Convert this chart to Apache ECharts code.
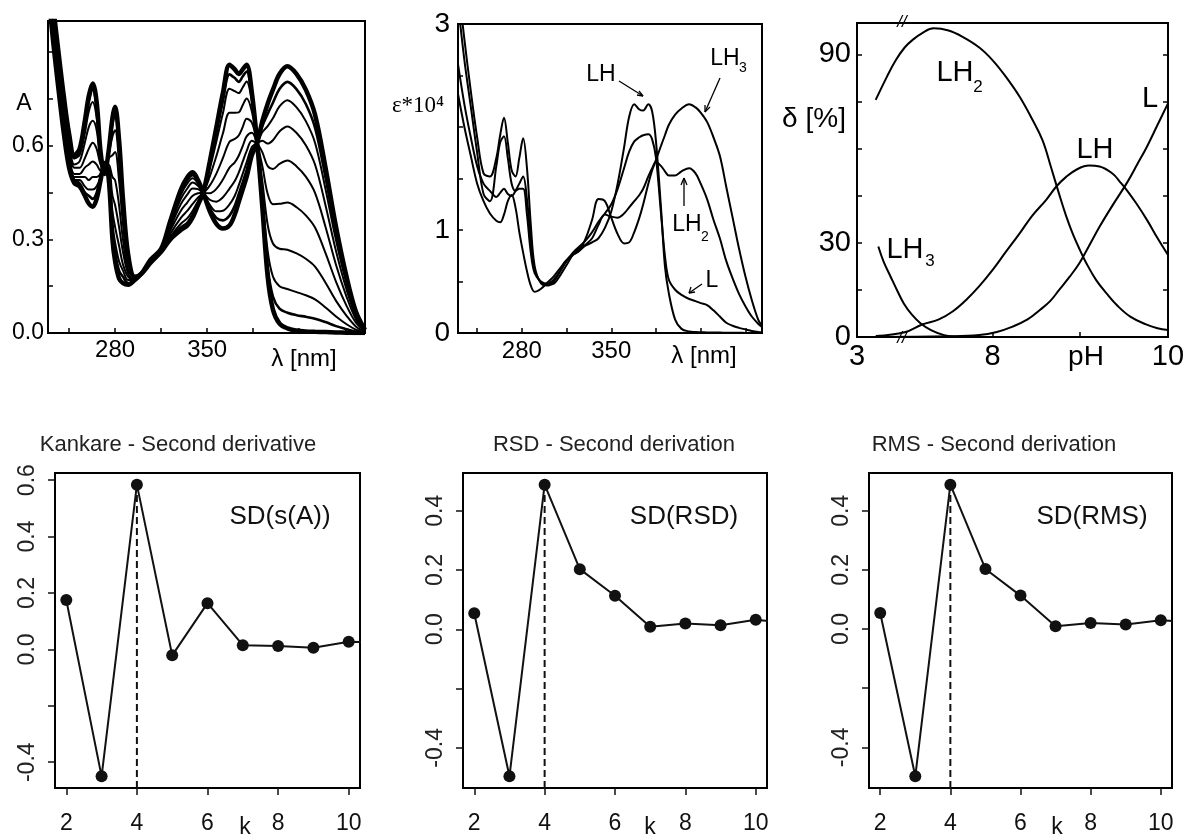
<!DOCTYPE html>
<html><head><meta charset="utf-8">
<script src="https://cdn.jsdelivr.net/npm/echarts@6/dist/echarts.min.js"></script>
<style>html,body{margin:0;padding:0;background:#fff}#c{width:1190px;height:838px}</style>
</head><body><div id="c"></div>
<script>
// ---------- Panel 1: titration spectra A vs wavelength ----------
const WL1 = [229,233,237,241,245,249,253,257,260,263,266,269,272,275,278,280,283,286,290,295,300,307,315,322,330,335,339,343,347,352,357,362,367,371,374,377,380,384,388,392,396,400,405,411,418,425,432,440,448,456,463,470];
const A_P = [1.25,1.05,0.90,0.76,0.64,0.57,0.59,0.68,0.76,0.80, 0.74,0.58,0.51,0.58,0.69,0.725,0.62,0.43,0.25,0.18, 0.19,0.225,0.26,0.30,0.33,0.345,0.37,0.41,0.45,0.55, 0.66,0.77,0.86,0.845,0.83,0.845,0.86,0.77,0.61,0.40, 0.18,0.075,0.03,0.015,0.008,0.005,0.004,0.003,0.002,0.001, 0,0];
const A_M1 = [1.24,1.04,0.89,0.75,0.63,0.56,0.58,0.67,0.74,0.78, 0.72,0.57,0.51,0.58,0.67,0.70,0.59,0.41,0.24,0.18, 0.19,0.225,0.261,0.304,0.338,0.354,0.379,0.415,0.45,0.54, 0.641,0.744,0.829,0.817,0.805,0.822,0.838,0.758,0.61,0.417, 0.213,0.117,0.078,0.065,0.057,0.052,0.046,0.035,0.022,0.012, 0.004,0.001];
const A_M2 = [1.23,1.03,0.88,0.74,0.62,0.56,0.57,0.64,0.71,0.74, 0.69,0.57,0.52,0.57,0.63,0.65,0.55,0.39,0.24,0.18, 0.19,0.227,0.262,0.309,0.350,0.368,0.392,0.422,0.45,0.526, 0.614,0.705,0.783,0.775,0.769,0.787,0.806,0.740,0.61,0.442, 0.263,0.181,0.150,0.141,0.131,0.121,0.108,0.082,0.053,0.028, 0.011,0.002];
const A_M3 = [1.21,1.01,0.86,0.72,0.61,0.54,0.55,0.61,0.66,0.68, 0.65,0.55,0.52,0.56,0.57,0.58,0.49,0.35,0.22,0.18, 0.19,0.228,0.263,0.318,0.369,0.392,0.414,0.434,0.45,0.502, 0.567,0.640,0.706,0.706,0.707,0.730,0.752,0.710,0.61,0.484, 0.347,0.287,0.270,0.267,0.255,0.238,0.213,0.161,0.103,0.055, 0.021,0.003];
const A_M4 = [1.18,0.99,0.84,0.70,0.59,0.53,0.53,0.56,0.59,0.61, 0.59,0.54,0.53,0.54,0.50,0.49,0.41,0.30,0.20,0.18, 0.19,0.23,0.265,0.329,0.392,0.419,0.440,0.448,0.45,0.473, 0.511,0.561,0.613,0.622,0.633,0.660,0.687,0.674,0.61,0.534, 0.446,0.413,0.414,0.418,0.403,0.377,0.338,0.256,0.164,0.087, 0.034,0.005];
const A_M5 = [1.15,0.97,0.82,0.68,0.57,0.51,0.51,0.53,0.54,0.55, 0.54,0.52,0.53,0.53,0.44,0.41,0.34,0.26,0.19,0.17, 0.19,0.231,0.266,0.338,0.413,0.444,0.463,0.461,0.45,0.448, 0.462,0.492,0.530,0.547,0.568,0.599,0.630,0.642,0.61,0.579, 0.535,0.526,0.542,0.553,0.534,0.501,0.449,0.340,0.218,0.116, 0.045,0.006];
const A_M6 = [1.13,0.96,0.81,0.67,0.56,0.50,0.50,0.50,0.49,0.50, 0.50,0.51,0.54,0.52,0.39,0.34,0.28,0.22,0.18,0.17, 0.19,0.233,0.268,0.346,0.430,0.464,0.482,0.472,0.45,0.427, 0.421,0.435,0.463,0.487,0.514,0.549,0.583,0.616,0.61,0.616, 0.607,0.618,0.646,0.662,0.641,0.602,0.540,0.409,0.262,0.139, 0.054,0.008];
const A_M7 = [1.12,0.95,0.80,0.66,0.54,0.49,0.49,0.47,0.46,0.46, 0.47,0.50,0.54,0.51,0.35,0.29,0.23,0.20,0.17,0.17, 0.19,0.234,0.269,0.352,0.443,0.480,0.496,0.480,0.45,0.411, 0.390,0.392,0.412,0.440,0.473,0.510,0.547,0.596,0.61,0.644, 0.663,0.688,0.726,0.746,0.723,0.679,0.610,0.461,0.296,0.157, 0.061,0.009];
const A_M8 = [1.11,0.94,0.79,0.65,0.54,0.49,0.48,0.45,0.44,0.43, 0.45,0.50,0.54,0.50,0.32,0.26,0.20,0.18,0.16,0.17, 0.19,0.234,0.269,0.356,0.452,0.491,0.506,0.485,0.45,0.400, 0.369,0.361,0.376,0.408,0.445,0.483,0.522,0.582,0.61,0.663, 0.702,0.738,0.782,0.805,0.781,0.734,0.658,0.498,0.320,0.169, 0.066,0.009];
const A_Q = [1.10,0.93,0.78,0.64,0.53,0.48,0.47,0.44,0.415,0.405, 0.43,0.49,0.545,0.50,0.30,0.23,0.175,0.16,0.155,0.17, 0.19,0.235,0.27,0.36,0.46,0.50,0.515,0.49,0.45,0.39, 0.35,0.335,0.345,0.38,0.42,0.46,0.50,0.57,0.61,0.68, 0.735,0.78,0.83,0.855,0.83,0.78,0.70,0.53,0.34,0.18, 0.07,0.01];
const WL_TICKS = [245,280,315,350,385,420,455];
const WL_LABELS = [280,350];
const A_TICKS = [0,0.15,0.3,0.45,0.6,0.75,0.9];
const A_LABELS = [0,0.3,0.6];

// ---------- Panel 2: species spectra eps*10^4 ----------
const WL2 = [230,235,240,245,250,255,260,263,266,269,272,275,278,281,284,287,290,295,300,305,310,315,320,325,330,335,340,345,350,355,360,364,368,372,375,379,382,385,389,392,395,400,405,411,416,420,425,430,435,440,445,450,455,460,465,468];
const E_LH = [3.40,2.85,2.35,1.90,1.55, 1.52,1.70,1.92,2.09,1.85, 1.58,1.52,1.70,1.89,1.60, 1.05,0.65,0.48,0.46,0.50, 0.60,0.70,0.76,0.80,0.85, 0.88,0.92,1.02,1.18,1.45, 1.80,2.10,2.22,2.17,2.16, 2.22,2.15,1.86,1.20,0.65, 0.39,0.13,0.04,0.015,0.01, 0.008,0.006,0.005,0.004,0.003, 0.002,0.002,0.001,0.001,0, 0];
const E_L = [3.20,2.65,2.20,1.75,1.35, 1.28,1.62,1.85,1.91,1.70, 1.45,1.38,1.40,1.40,1.15, 0.78,0.58,0.50,0.48,0.52, 0.60,0.70,0.78,0.84,0.90, 0.98,1.08,1.16,1.25,1.40, 1.60,1.76,1.86,1.90,1.92, 1.93,1.88,1.70,1.15,0.75, 0.52,0.42,0.37,0.33,0.31, 0.29,0.27,0.22,0.16,0.10, 0.07,0.05,0.035,0.02,0.01, 0.008];
const E_LH2 = [2.61,2.22,1.90,1.62,1.45, 1.38,1.32,1.36,1.40,1.35, 1.33,1.38,1.45,1.52,1.30, 0.90,0.62,0.49,0.47,0.48, 0.56,0.66,0.76,0.82,0.86, 0.92,1.05,1.15,1.13,1.12, 1.16,1.22,1.28,1.34,1.40, 1.52,1.60,1.66,1.62,1.57, 1.53,1.53,1.57,1.60,1.55, 1.45,1.30,1.10,0.92,0.70, 0.53,0.38,0.26,0.16,0.09, 0.06];
const E_LH3 = [2.32,2.00,1.72,1.45,1.28, 1.16,1.09,1.075,1.15,1.28, 1.34,1.22,0.98,0.78,0.60, 0.46,0.40,0.43,0.49,0.55, 0.63,0.71,0.76,0.80,0.92, 1.10,1.30,1.28,1.12,0.96, 0.87,0.88,0.98,1.12,1.25, 1.45,1.58,1.68,1.82,1.92, 2.02,2.12,2.18,2.22,2.19, 2.14,2.05,1.90,1.72,1.42, 1.12,0.82,0.55,0.32,0.13, 0.07];
const E_TICKS = [0,0.5,1,1.5,2,2.5,3];
const E_LABELS = [0,1,3];

// ---------- Panel 3: distribution diagram (broken pH axis) ----------
const PH_AXIS_LEFT = 6.457;              // axis position carrying the "3" label (left of the break)
const PH_LABEL_POS = [PH_AXIS_LEFT, 8, 10];
const PH_LABEL_TXT = ['3', '8', '10'];
const PH_TICKS = [8, 9];
const PH_LH3 = [6.70,6.76,6.84,6.92,6.99,7.08,7.18,7.30,7.45,7.60,7.80];
const D_LH3  = [28.8,24,19.2,14.5,10.7,7.2,4.4,2.2,0.6,0.1,0];
const PH_LH2 = [6.67,6.80,6.90,7.00,7.09,7.20,7.33,7.50,7.66,7.85,8.00,8.15,8.31,8.45,8.57,8.67,8.76,8.84,8.92,9.00,9.07,9.18,9.30,9.43,9.57,9.75,9.88,10.0];
const D_LH2  = [75.5,83,88.2,92.2,94.6,96.8,98.3,97.6,95.6,92.2,88.2,83,76.5,69.5,62.7,53.8,45.5,38.5,32.5,27.5,23.5,18.2,13.9,9.8,6.5,4.0,2.8,2.2];
const PH_LH  = [6.67,7.00,7.20,7.39,7.55,7.70,7.85,8.00,8.15,8.31,8.45,8.61,8.73,8.84,8.97,9.10,9.22,9.37,9.45,9.53,9.64,9.76,9.88,10.0];
const D_LH   = [0.3,1.5,4.0,5.6,8.2,11.8,16.2,21.3,27,33,38.5,43.6,48,51,53.5,54.6,54.3,52,49.5,46.8,42.5,37.3,31.5,26.1];
const PH_L   = [6.67,7.50,7.85,8.05,8.23,8.40,8.54,8.66,8.76,8.88,8.99,9.10,9.22,9.37,9.53,9.65,9.76,9.88,10.0];
const D_L    = [0,0.2,0.6,1.6,3.3,5.6,8.6,11.5,15,19.2,23.5,29,35.1,42,49,55,60.6,67.5,74.4];
const D_TICKS = [0,15,30,45,60,75,90];
const D_LABELS = [0,30,90];

// ---------- Panels 4-6: second derivative criteria vs k ----------
const K = [2,3,4,5,6,7,8,9,10,11];
const SD_KANKARE = [0.175,-0.450,0.584,-0.021,0.164,0.015,0.012,0.006,0.027,0.024];
const SD_RSD     = [0.054,-0.496,0.488,0.203,0.113,0.009,0.020,0.0135,0.032,0.021];
const SD_RMS     = [0.054,-0.498,0.488,0.203,0.113,0.009,0.020,0.015,0.030,0.021];
const K_TICKS = [2,4,6,8,10];
const SD_TICKS = [-0.4,-0.2,0,0.2,0.4,0.6];
const SD_LABELS = [-0.4,0,0.2,0.4,0.6];

// ======================================================
const FONT = '"Liberation Sans", Arial, Helvetica, sans-serif';
const SERIF = '"Liberation Serif", "DejaVu Serif", serif';
const BLK = '#000';
const pairs = (xs, ys) => xs.map((x, i) => [x, ys[i]]);

const grids = [
  {left:48, top:21, width:317, height:312},
  {left:458, top:24, width:304, height:309},
  {left:857, top:23, width:311, height:314},
  {left:55, top:473, width:305, height:315},
  {left:463, top:473, width:304, height:315},
  {left:869, top:473, width:303, height:315}
].map(g => Object.assign({show:true, borderColor:BLK, borderWidth:2, backgroundColor:'transparent'}, g));

function topX(gi, min, max, ticks, labels, fmt, size, margin) {
  return {gridIndex:gi, type:'value', min, max, position:'bottom',
    axisLine:{show:true, onZero:false, lineStyle:{color:BLK, width:2}},
    axisTick:{show:true, inside:true, length:5, customValues:ticks, lineStyle:{color:BLK, width:1.5}},
    axisLabel:{show:true, customValues:labels, formatter:fmt, color:BLK, fontSize:size, fontFamily:FONT, margin},
    splitLine:{show:false}};
}
function topY(gi, min, max, ticks, labels, fmt, size, margin, pos) {
  return {gridIndex:gi, type:'value', min, max, position:pos||'left',
    axisLine:{show:true, onZero:false, lineStyle:{color:BLK, width:2}},
    axisTick:{show:true, inside:true, length:5, customValues:ticks, lineStyle:{color:BLK, width:1.5}},
    axisLabel:{show: labels !== null, customValues:labels || [], formatter:fmt, color:BLK, fontSize:size, fontFamily:FONT, margin},
    splitLine:{show:false}};
}
function botX(gi) {
  return {gridIndex:gi, type:'value', min:2 - 0.04*8, max:10 + 0.04*8,
    axisLine:{show:false, onZero:false},
    axisTick:{show:true, inside:false, length:7, customValues:K_TICKS, lineStyle:{color:'#111', width:1.5}},
    axisLabel:{show:true, customValues:K_TICKS, color:'#111', fontSize:23, fontFamily:FONT, margin:24},
    splitLine:{show:false}};
}
function botY(gi, vals) {
  const v = vals.slice(0, 9);
  const lo = Math.min(...v), hi = Math.max(...v), r = hi - lo;
  const mn = lo - 0.04*r, mx = hi + 0.04*r;
  return {gridIndex:gi, type:'value', min:mn, max:mx,
    axisLine:{show:false, onZero:false},
    axisTick:{show:true, inside:false, length:7, customValues:SD_TICKS.filter(t => t>=mn && t<=mx), lineStyle:{color:'#111', width:1.5}},
    axisLabel:{show:true, rotate:90, customValues:SD_LABELS.filter(t => t>=mn && t<=mx), formatter:x => x.toFixed(1), color:'#222', fontSize:23, fontFamily:FONT, margin:16},
    splitLine:{show:false}};
}

const fmt1 = x => x.toFixed(1);
const xAxis = [
  topX(0, 229, 470, WL_TICKS, WL_LABELS, x => String(Math.round(x)), 24, 5),
  topX(1, 230, 468, WL_TICKS, WL_LABELS, x => String(Math.round(x)), 24, 6),
  topX(2, PH_AXIS_LEFT, 10, PH_TICKS, PH_LABEL_POS, x => { const i = PH_LABEL_POS.findIndex(p => Math.abs(p - x) < 1e-6); return i >= 0 ? PH_LABEL_TXT[i] : ''; }, 29, 5),
  botX(3), botX(4), botX(5)
];
const yAxis = [
  topY(0, 0, 1.0, A_TICKS, A_LABELS, fmt1, 23, 4),
  topY(1, 0, 3, E_TICKS, E_LABELS, x => String(Math.round(x)), 28, 8),
  topY(2, 0, 100, D_TICKS, D_LABELS, x => String(Math.round(x)), 29, 6),
  topY(2, 0, 100, D_TICKS, null, null, 10, 0, 'right'),
  botY(3, SD_KANKARE), botY(4, SD_RSD), botY(5, SD_RMS)
];

const series = [];
const P1 = [A_P, A_M1, A_M2, A_M3, A_M4, A_M5, A_M6, A_M7, A_M8, A_Q];
P1.forEach((arr, i) => series.push({
  type:'line', xAxisIndex:0, yAxisIndex:0, data:pairs(WL1, arr), symbol:'none', showSymbol:false,
  smooth:0.35, clip:true, silent:true,
  lineStyle:{color:BLK, width:(i === 0 || i === P1.length - 1) ? 4.5 : (i === 1 || i === P1.length - 2 ? 2.6 : 2)}
}));
[E_LH, E_L, E_LH2, E_LH3].forEach(arr => series.push({
  type:'line', xAxisIndex:1, yAxisIndex:1, data:pairs(WL2, arr), symbol:'none', showSymbol:false,
  smooth:0.35, clip:true, silent:true, lineStyle:{color:BLK, width:2}
}));
[[PH_LH3, D_LH3], [PH_LH2, D_LH2], [PH_LH, D_LH], [PH_L, D_L]].forEach(([xs, ys]) => series.push({
  type:'line', xAxisIndex:2, yAxisIndex:2, data:pairs(xs, ys), symbol:'none', showSymbol:false,
  smooth:0.4, clip:true, silent:true, lineStyle:{color:BLK, width:2}
}));
[SD_KANKARE, SD_RSD, SD_RMS].forEach((vals, j) => {
  const ax = yAxis[4 + j];
  let im = 0; vals.forEach((v, i) => { if (v > vals[im]) im = i; });
  series.push({type:'line', xAxisIndex:3 + j, yAxisIndex:4 + j, data:[[K[im], ax.min], [K[im], vals[im]]],
    symbol:'none', showSymbol:false, clip:true, silent:true, lineStyle:{color:'#111', width:2, type:[7, 4]}});
  series.push({type:'line', xAxisIndex:3 + j, yAxisIndex:4 + j, data:pairs(K, vals),
    symbol:'circle', symbolSize:12, showSymbol:true, clip:true, silent:true,
    itemStyle:{color:'#111'}, lineStyle:{color:'#111', width:2}});
});

function T(x, y, text, size, extra) {
  extra = extra || {};
  return {type:'text', x, y, silent:true, z:100,
    style:Object.assign({text, fill:extra.fill || BLK, font:(extra.style || 'normal') + ' ' + size + 'px ' + (extra.family || FONT),
      textAlign:extra.align || 'center', textVerticalAlign:'middle', align:extra.align || 'center', verticalAlign:'middle'})};
}
function arrow(x1, y1, x2, y2) {
  return {type:'line', silent:true, z:100, shape:{x1, y1, x2, y2}, style:{stroke:BLK, lineWidth:1.3}};
}
const graphic = [
  // panel 1
  T(24, 104, 'A', 23),
  T(304, 359, 'λ [nm]', 24),
  // panel 2
  T(418, 106, 'ε*10⁴', 23, {family:SERIF}),
  T(704, 356, 'λ [nm]', 24),
  T(601, 75, 'LH', 23), arrow(619, 81, 643, 96), arrow(643, 96, 637, 95), arrow(643, 96, 639, 91),
  T(725, 59, 'LH', 23), T(743, 68, '3', 14), arrow(720, 78, 705, 112), arrow(705, 112, 705, 105), arrow(705, 112, 710, 107),
  T(687, 225, 'LH', 23), T(705, 237, '2', 14), arrow(684, 206, 684, 178), arrow(684, 178, 681, 185), arrow(684, 178, 687, 185),
  T(712, 281, 'L', 23), arrow(702, 284, 689, 293), arrow(689, 293, 691, 287), arrow(689, 293, 695, 292),
  // panel 3
  T(814, 119, 'δ [%]', 28),
  T(1086, 357, 'pH', 28),
  T(955, 73, 'LH', 29), T(978, 87, '2', 17),
  T(905, 250, 'LH', 29), T(930, 261, '3', 17),
  T(1095, 150, 'LH', 29),
  T(1150, 99, 'L', 29),
  T(902, 22, '//', 17, {style:'italic'}),
  T(902, 338, '//', 17, {style:'italic'}),
  // bottom panels
  T(178, 445, 'Kankare - Second derivative', 22, {fill:'#222'}),
  T(614, 445, 'RSD - Second derivation', 22, {fill:'#222'}),
  T(994, 445, 'RMS - Second derivation', 22, {fill:'#222'}),
  T(280, 517, 'SD(s(A))', 26, {fill:'#111'}),
  T(684, 517, 'SD(RSD)', 26, {fill:'#111'}),
  T(1092, 517, 'SD(RMS)', 26, {fill:'#111'}),
  T(245, 828, 'k', 23, {fill:'#111'}),
  T(650, 828, 'k', 23, {fill:'#111'}),
  T(1057, 828, 'k', 23, {fill:'#111'})
];

const chart = echarts.init(document.getElementById('c'), null, {renderer:'canvas'});
chart.setOption({animation:false, backgroundColor:'#fff', grid:grids, xAxis, yAxis, series, graphic});
</script></body></html>
